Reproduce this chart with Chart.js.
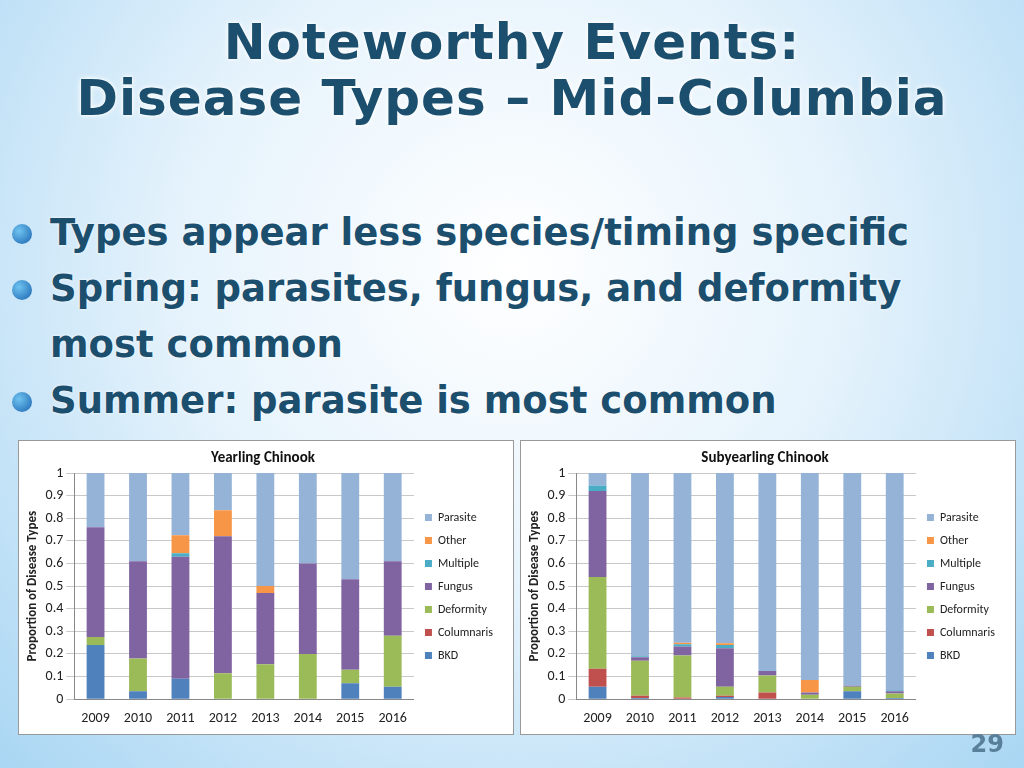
<!DOCTYPE html>
<html>
<head>
<meta charset="utf-8">
<script src="https://cdn.jsdelivr.net/npm/chart.js@4"></script>
<style>
  body { margin: 0; width: 1024px; height: 768px; overflow: hidden; position: relative;
    background: radial-gradient(ellipse at 50% 35%, #ffffff 0%, #e6f3fc 45%, #a9d6f3 100%);
    font-family: "DejaVu Sans", sans-serif; }
  h1 { position: absolute; top: 14px; left: 0; width: 1024px; margin: 0; text-align: center;
    font-size: 50px; line-height: 56px; color: #1c4f6e; font-weight: bold; letter-spacing: 1px;
    text-shadow: 0 0 3px #fff, 0 0 6px #fff; }
  ul { position: absolute; top: 205px; left: 10px; margin: 0; padding: 0; list-style: none;
    font-size: 37px; line-height: 56px; color: #1c4f6e; font-weight: bold; text-shadow: 0 0 3px #fff; }
  li { position: relative; padding-left: 40px; }
  li.b::before { content: ""; position: absolute; left: 2px; top: 19px; width: 20px; height: 20px;
    border-radius: 50%; background: radial-gradient(circle at 35% 35%, #6fc3f0, #1a63b0); }
  .box { position: absolute; top: 440px; width: 494px; height: 293px; background: #fff; border: 1px solid #999; }
  .pg { position: absolute; right: 20px; bottom: 10px; font-size: 24px; font-weight: bold; color: #5a7f9a; }
</style>
</head>
<body>
<h1>Noteworthy Events:<br>Disease Types – Mid-Columbia</h1>
<ul>
  <li class="b">Types appear less species/timing specific</li>
  <li class="b">Spring: parasites, fungus, and deformity</li>
  <li>most common</li>
  <li class="b">Summer: parasite is most common</li>
</ul>
<div class="box" style="left:18px"><canvas id="chart1"></canvas></div>
<div class="box" style="left:520px"><canvas id="chart2"></canvas></div>
<div class="pg">29</div>
<script>
const years = ["2009", "2010", "2011", "2012", "2013", "2014", "2015", "2016"];
const types = ["BKD", "Columnaris", "Deformity", "Fungus", "Multiple", "Other", "Parasite"];
const colors = ['#4F81BD', '#C0504D', '#9BBB59', '#8064A2', '#4BACC6', '#F79646', '#95B3D7'];

// yearling chinook, one array per type
const yBKD = [0.24, 0.035, 0.09, 0, 0, 0, 0.07, 0.055];
const yColumnaris = [0, 0, 0, 0, 0, 0, 0, 0];
const yDeformity = [0.035, 0.145, 0, 0.115, 0.155, 0.2, 0.06, 0.225];
const yFungus = [0.485, 0.43, 0.54, 0.605, 0.315, 0.4, 0.4, 0.33];
const yMultiple = [0, 0, 0.015, 0, 0, 0, 0, 0];
const yOther = [0, 0, 0.08, 0.115, 0.03, 0, 0, 0];
const yParasite = [0.24, 0.39, 0.275, 0.165, 0.5, 0.4, 0.47, 0.39];

// subyearling chinook
const sBKD = [0.055, 0.005, 0, 0.01, 0, 0, 0.035, 0.005];
const sColumnaris = [0.08, 0.01, 0.008, 0.005, 0.03, 0, 0, 0];
const sDeformity = [0.405, 0.155, 0.185, 0.04, 0.075, 0.02, 0.02, 0.02];
const sFungus = [0.38, 0.015, 0.04, 0.17, 0.02, 0.01, 0.005, 0.01];
const sMultiple = [0.025, 0.005, 0.01, 0.015, 0, 0, 0, 0.005];
const sOther = [0, 0, 0.007, 0.007, 0, 0.055, 0, 0];
const sParasite = [0.055, 0.81, 0.75, 0.753, 0.875, 0.915, 0.94, 0.96];

const yTicks = [0, 0.1, 0.2, 0.3, 0.4, 0.5, 0.6, 0.7, 0.8, 0.9, 1];

Chart.defaults.font.family = 'Calibri, Carlito, "Liberation Sans", sans-serif';
Chart.defaults.color = '#222';

function makeChart(id, title, series) {
  new Chart(document.getElementById(id), {
    type: 'bar',
    data: {
      labels: years,
      datasets: series.map((d, i) => ({
        label: types[i],
        data: d,
        backgroundColor: colors[i],
        barPercentage: 0.42,
        categoryPercentage: 1
      }))
    },
    options: {
      responsive: false,
      animation: false,
      layout: { padding: { top: 2, right: 10, bottom: 4, left: 4 } },
      scales: {
        x: {
          stacked: true,
          grid: { display: false },
          border: { color: '#888' },
          ticks: { font: { size: 14 }, color: '#222' }
        },
        y: {
          stacked: true,
          min: 0, max: 1,
          afterBuildTicks: axis => { axis.ticks = yTicks.map(v => ({ value: v })); },
          grid: { color: '#c8c8c8' },
          border: { color: '#888' },
          ticks: { font: { size: 14 }, color: '#222', callback: v => String(+v.toFixed(1)) },
          title: { display: true, text: 'Proportion of Disease Types', font: { size: 13, weight: 'bold' }, padding: 2 }
        }
      },
      plugins: {
        title: { display: true, text: title, font: { size: 15, weight: 'bold' }, color: '#111', padding: { top: 6, bottom: 6 } },
        legend: {
          position: 'right',
          reverse: true,
          labels: { boxWidth: 7, boxHeight: 7, font: { size: 12 }, padding: 11 }
        },
        tooltip: { enabled: false }
      }
    }
  });
}

for (const c of ['chart1', 'chart2']) {
  const el = document.getElementById(c);
  el.width = 494; el.height = 293;
}
makeChart('chart1', 'Yearling Chinook', [yBKD, yColumnaris, yDeformity, yFungus, yMultiple, yOther, yParasite]);
makeChart('chart2', 'Subyearling Chinook', [sBKD, sColumnaris, sDeformity, sFungus, sMultiple, sOther, sParasite]);
</script>
</body>
</html>
